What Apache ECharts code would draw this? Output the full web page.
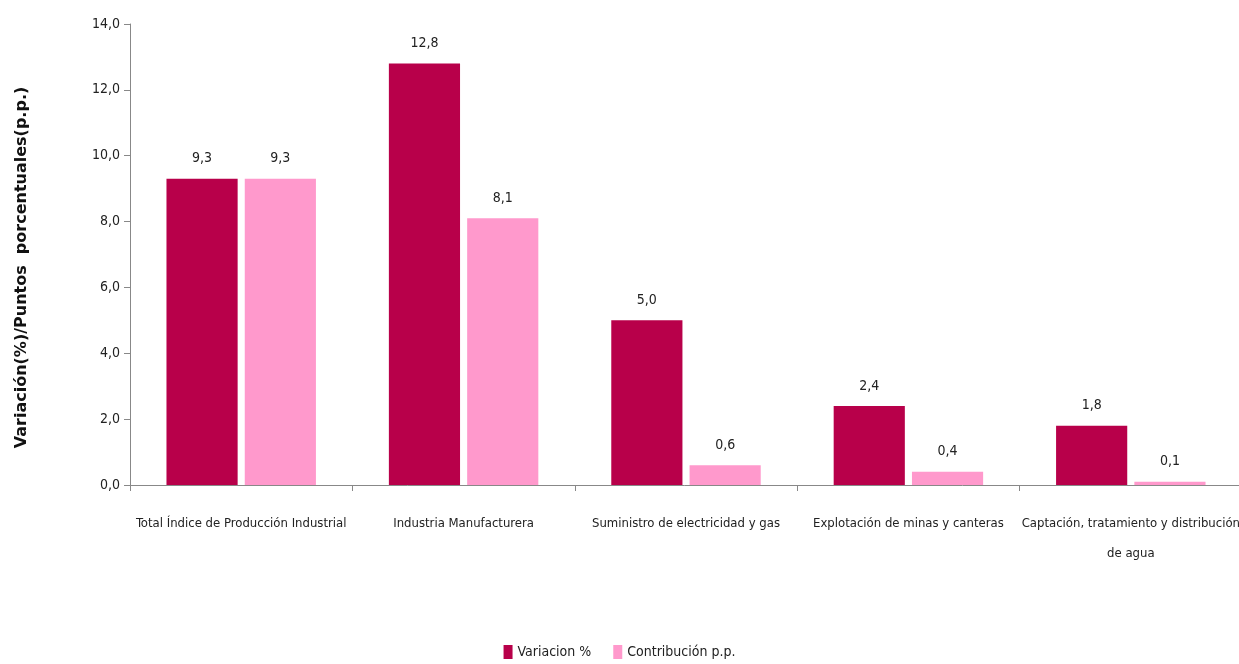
<!DOCTYPE html>
<html><head><meta charset="utf-8">
<script src="https://cdn.jsdelivr.net/npm/echarts@6/dist/echarts.min.js"></script>
<style>html,body{margin:0;padding:0;background:#fff}#c{width:1239px;height:664px}</style>
</head><body><div id="c"></div>
<script>
const categories = ["Total Índice de Producción Industrial","Industria Manufacturera","Suministro de electricidad y gas","Explotación de minas y canteras","Captación, tratamiento y distribución\nde agua"];
const variacion = [9.3, 12.8, 5.0, 2.4, 1.8];
const contribucion = [9.3, 8.1, 0.6, 0.4, 0.1];
const seriesNames = ["Variacion %","Contribución p.p."];
const yTicks = {min:0, max:14, interval:2};

const FONT = '"DejaVu Sans Condensed","Liberation Sans Narrow",sans-serif';
const fmt = v => Number(v).toFixed(1).replace('.', ',');
const chart = echarts.init(document.getElementById('c'));
chart.setOption({
  animation:false,
  textStyle:{fontFamily:FONT},
  grid:{left:130, right:-3, top:24, bottom:179, outerBoundsMode:'none', containLabel:false},
  legend:{bottom:0, left:'center', itemWidth:9, itemHeight:14, itemGap:22,
    textStyle:{fontFamily:FONT, fontSize:14, color:'#222'}, icon:'rect'},
  xAxis:{type:'category', data:categories,
    axisLine:{lineStyle:{color:'#888'}},
    axisTick:{show:true, length:6, lineStyle:{color:'#888'}},
    axisLabel:{interval:0, margin:24, fontFamily:FONT, fontSize:13, color:'#222', lineHeight:30, hideOverlap:false}},
  yAxis:{type:'value', min:yTicks.min, max:yTicks.max, interval:yTicks.interval,
    name:'Variación(%)/Puntos  porcentuales(p.p.)', nameLocation:'middle', nameGap:100,
    nameTextStyle:{fontFamily:'"DejaVu Sans",sans-serif', fontWeight:'bold', fontSize:16, color:'#111', padding:[0,26,0,0]},
    axisLine:{show:true, lineStyle:{color:'#888'}},
    axisTick:{show:true, length:6, lineStyle:{color:'#888'}},
    splitLine:{show:false},
    axisLabel:{formatter:fmt, fontFamily:FONT, fontSize:14, color:'#222', margin:10}},
  series:[
    {name:seriesNames[0], type:'bar', data:variacion, barWidth:'32%', barGap:'10%',
     itemStyle:{color:'#B8004A'},
     label:{show:true, position:'top', distance:13, formatter:p=>fmt(p.value), fontFamily:FONT, fontSize:14, color:'#222'}},
    {name:seriesNames[1], type:'bar', data:contribucion, barWidth:'32%',
     itemStyle:{color:'#FF99CC'},
     label:{show:true, position:'top', distance:13, formatter:p=>fmt(p.value), fontFamily:FONT, fontSize:14, color:'#222'}}
  ]
});
</script></body></html>
